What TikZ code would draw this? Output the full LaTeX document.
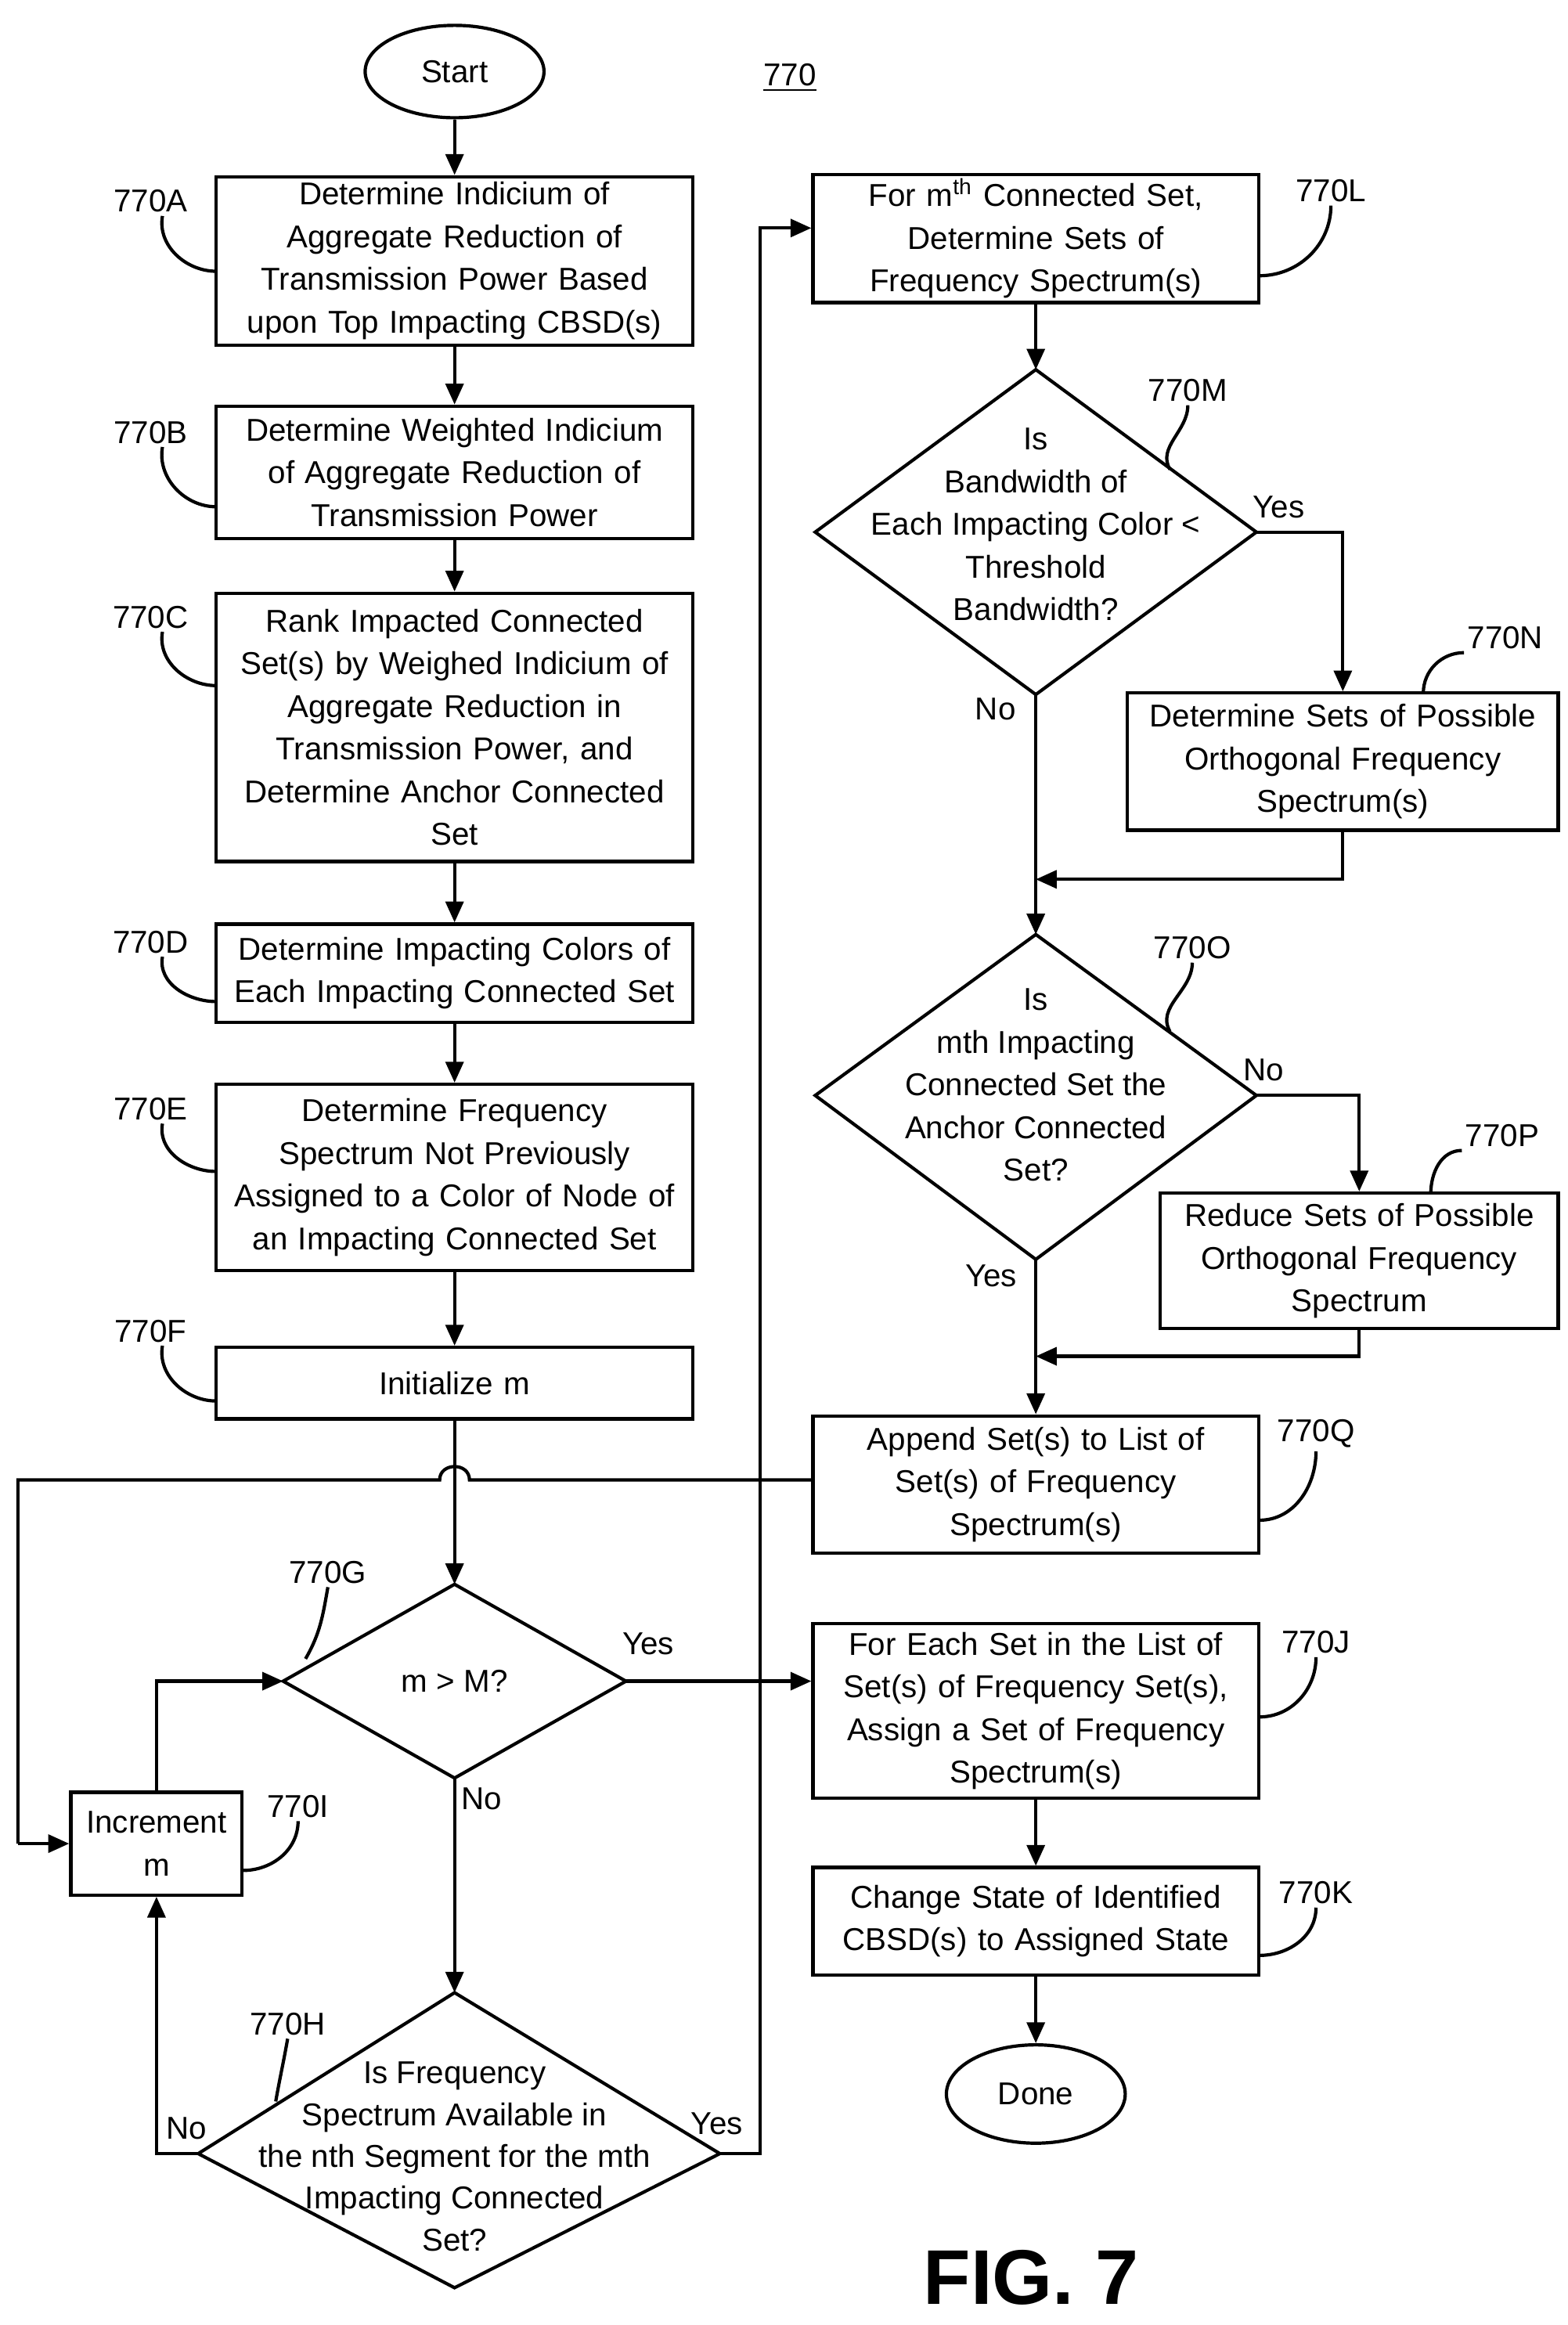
\documentclass[tikz,border=0pt]{standalone}
\usepackage{fontspec}
\setmainfont{Liberation Sans}
\usetikzlibrary{arrows.meta,shapes.geometric,calc}
\begin{document}
\begin{tikzpicture}[x=0.5pt,y=-0.5pt,
  every node/.style={font=\fontsize{10.6}{14.3}\selectfont},
  ln/.style={line width=1.1pt},
  ar/.style={ln,-{Triangle[length=7pt,width=6pt]}},
  box/.style={draw,line width=1.1pt,align=center,inner sep=1pt},
  tag/.style={inner sep=1pt},
  lbl/.style={inner sep=1pt}]
\useasboundingbox (0,0) rectangle (1052,1560);
% start/end
\node[draw,ln,ellipse,minimum width=60pt,minimum height=31pt] (start) at (305,48) {Start};
\node[draw,ln,ellipse,minimum width=60pt,minimum height=33pt] (done) at (695,1405) {Done};
\node at (530,52) {\underline{770}};
% left column boxes
\node[box,minimum width=160pt,minimum height=56.5pt,text width=156pt] (A) at (305,175) {Determine Indicium of\\Aggregate Reduction of\\Transmission Power Based\\upon Top Impacting CBSD(s)};
\node[box,minimum width=160pt,minimum height=44.5pt,text width=156pt] (B) at (305,317) {Determine Weighted Indicium\\of Aggregate Reduction of\\Transmission Power};
\node[box,minimum width=160pt,minimum height=90pt,text width=156pt] (C) at (305,488) {Rank Impacted Connected\\Set(s) by Weighed Indicium of\\Aggregate Reduction in\\Transmission Power, and\\Determine Anchor Connected\\Set};
\node[box,minimum width=160pt,minimum height=33pt,text width=156pt] (D) at (305,653) {Determine Impacting Colors of\\Each Impacting Connected Set};
\node[box,minimum width=160pt,minimum height=62.5pt,text width=156pt] (E) at (305,790) {Determine Frequency\\Spectrum Not Previously\\Assigned to a Color of Node of\\an Impacting Connected Set};
\node[box,minimum width=160pt,minimum height=24pt,text width=156pt] (F) at (305,928) {Initialize m};
\node[box,minimum width=57.5pt,minimum height=34.5pt,text width=54pt] (I) at (105,1237) {Increment\\m};
% right column boxes
\node[box,minimum width=149.5pt,minimum height=43pt,text width=146pt] (L) at (695,160) {For m\textsuperscript{th} Connected Set,\\Determine Sets of\\Frequency Spectrum(s)};
\node[box,minimum width=144.5pt,minimum height=46pt,text width=141pt] (N) at (901,511) {Determine Sets of Possible\\Orthogonal Frequency\\Spectrum(s)};
\node[box,minimum width=133.5pt,minimum height=45.5pt,text width=130pt] (P) at (912,846) {Reduce Sets of Possible\\Orthogonal Frequency\\Spectrum};
\node[box,minimum width=149.5pt,minimum height=46pt,text width=146pt] (Q) at (695,996) {Append Set(s) to List of\\Set(s) of Frequency\\Spectrum(s)};
\node[box,minimum width=149.5pt,minimum height=58.5pt,text width=146pt] (J) at (695,1148) {For Each Set in the List of\\Set(s) of Frequency Set(s),\\Assign a Set of Frequency\\Spectrum(s)};
\node[box,minimum width=149.5pt,minimum height=36pt,text width=146pt] (K) at (695,1289) {Change State of Identified\\CBSD(s) to Assigned State};
% diamonds
\coordinate (Gn) at (305,1063); \coordinate (Gs) at (305,1193); \coordinate (Gw) at (190,1128); \coordinate (Ge) at (420,1128);
\draw[ln] (Gn)--(Ge)--(Gs)--(Gw)--cycle; \node (Gt) at (305,1128) {m > M?};
\coordinate (Hn) at (305,1337); \coordinate (Hs) at (305,1535); \coordinate (Hw) at (133,1445); \coordinate (He) at (483,1445);
\draw[ln] (Hn)--(He)--(Hs)--(Hw)--cycle; \node[align=center,font=\fontsize{10.6}{14}\selectfont] (Ht) at (305,1447) {Is Frequency\\Spectrum Available in\\the nth Segment for the mth\\Impacting Connected\\Set?};
\coordinate (Mn) at (695,248); \coordinate (Ms) at (695,466); \coordinate (Mw) at (547,357); \coordinate (Me) at (843,357);
\draw[ln] (Mn)--(Me)--(Ms)--(Mw)--cycle; \node[align=center] (Mt) at (695,352) {Is\\Bandwidth of\\Each Impacting Color <\\Threshold\\Bandwidth?};
\coordinate (On) at (695,627); \coordinate (Os) at (695,845); \coordinate (Ow) at (547,735); \coordinate (Oe) at (843,735);
\draw[ln] (On)--(Oe)--(Os)--(Ow)--cycle; \node[align=center] (Ot) at (695,728) {Is\\mth Impacting\\Connected Set the\\Anchor Connected\\Set?};
% arrows left column
\draw[ar] (start)--(A); \draw[ar] (A)--(B); \draw[ar] (B)--(C); \draw[ar] (C)--(D); \draw[ar] (D)--(E); \draw[ar] (E)--(F);
\draw[ar] (F)--(Gn);
\draw[ln] (Q.west|-0,993) -- (315,993) .. controls (315,981) and (295,981) .. (295,993) -- (12,993) -- (12,1237);
\coordinate (qi) at (12,1237);
\draw[ar] (qi)--(I.west);
\draw[ar] (Ge)--(J.west|-Ge); \node[lbl] at (435,1103) {Yes};
\draw[ar] (Gs)--(Hn); \node[lbl] at (323,1207) {No};
\draw[ar] (Hw)-|(I.south); \node[lbl] at (125,1428) {No};
\draw[ar] (He)--(510,1445)--(510,153)--(L.west|-0,153); \node[lbl] at (481,1425) {Yes};
\draw[ar] (I.north)|-(Gw);
% right column arrows
\draw[ar] (L)--(Mn);
\draw[ar] (Me)-|(N.north); \node[lbl] at (858,340) {Yes};
\draw[ar] (Ms)--(On); \node[lbl] at (668,476) {No};
\draw[ar] (N.south)|-(695,590);
\draw[ar] (Oe)-|(P.north); \node[lbl] at (848,718) {No};
\draw[ar] (Os)--(Q.north); \node[lbl] at (665,856) {Yes};
\draw[ar] (P.south)|-(695,910);
\draw[ar] (J)--(K); \draw[ar] (K)--(done);
% tags
\foreach \n/\x/\y/\tx/\ty in {A/101/135/145/182, B/101/290/145/340, C/101/414/145/460, D/101/632/145/672, E/101/744/145/786, F/101/893/145/940}
{ \node[tag] (t\n) at (\x,\y) {770\n};
  \draw[ln] ($(t\n.south)+(8,0)$) to[out=-100,in=180] (\tx,\ty); }
\node[tag] (tG) at (220,1055) {770G}; \draw[ln] (tG.south) to[out=-100,in=60] (205,1113);
\node[tag] (tI) at (200,1212) {770I}; \draw[ln] (tI.south) to[out=-90,in=0] (163,1255);
\node[tag] (tH) at (193,1358) {770H}; \draw[ln] (tH.south) to[out=-100,in=80] (185,1410);
\foreach \n/\x/\y/\tx/\ty in {L/893/128/845/185, Q/883/962/845/1020, J/883/1102/845/1152, K/883/1270/845/1312}
{ \node[tag] (t\n) at (\x,\y) {770\n};
  \draw[ln] (t\n.south) to[out=-90,in=0] (\tx,\ty); }
\node[tag] (tM) at (797,262) {770M}; \draw[ln] (tM.south) to[out=-90,in=120] (785,315);
\node[tag] (tO) at (800,636) {770O}; \draw[ln] (tO.south) to[out=-90,in=120] (785,692);
\node[tag] (tN) at (1010,428) {770N}; \draw[ln] (tN.south west) to[out=180,in=90] (955,465);
\node[tag] (tP) at (1008,762) {770P}; \draw[ln] (tP.south west) to[out=180,in=90] (960,801);
\node[font=\bfseries\fontsize{26}{28}\selectfont] (fig) at (692,1528) {FIG. 7};
\end{tikzpicture}
\end{document}
